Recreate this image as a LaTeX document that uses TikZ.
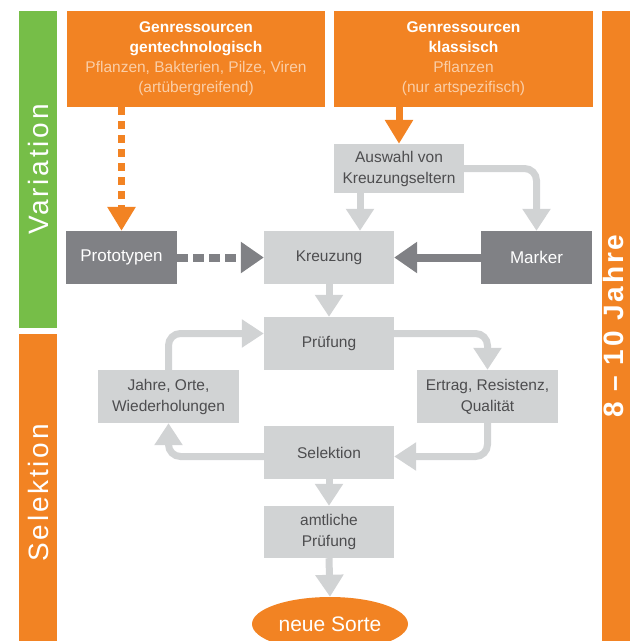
\documentclass[tikz,border=0pt]{standalone}
\usepackage{fontspec}
\setmainfont{Liberation Sans}
\usetikzlibrary{arrows.meta,shapes.geometric}

\definecolor{sortorange}{RGB}{242,131,35}
\definecolor{sortgreen}{RGB}{118,190,72}
\definecolor{boxgray}{RGB}{209,211,212}
\definecolor{markgray}{RGB}{128,129,133}
\definecolor{textgray}{RGB}{77,77,79}
\colorlet{lightorange}{sortorange!40!white}

\tikzset{
  graybox/.style={fill=boxgray, text=textgray, minimum width=130pt, minimum height=53pt,
    inner sep=0pt, align=center, font=\fontsize{15.5}{21}\selectfont},
  markbox/.style={fill=markgray, text=white, minimum width=111pt, minimum height=53pt,
    inner sep=0pt, font=\fontsize{17}{21}\selectfont},
  sourcebox/.style={fill=sortorange, text=white, minimum width=258pt, minimum height=96pt,
    inner sep=0pt, align=center, font=\fontsize{15.5}{20}\selectfont},
  phasebar/.style={text=white, minimum height=38pt, inner sep=0pt, rotate=90,
    font=\fontsize{28}{30}\selectfont\addfontfeature{LetterSpace=10}},
  flow/.style={line width=7pt, boxgray, -{Triangle[width=27pt,length=22pt]}},
  markflow/.style={line width=8pt, markgray, -{Triangle[width=30pt,length=23pt]}},
  srcflow/.style={line width=7pt, sortorange, -{Triangle[width=27pt,length=24pt]}}
}

\begin{document}
\begin{tikzpicture}[x=1pt,y=-1pt]
	\useasboundingbox (0,0) rectangle (630,641);

	% Phases
	\node[phasebar, fill=sortgreen, minimum width=317pt] (variation) at (38,169.5) {Variation};
	\node[phasebar, fill=sortorange, minimum width=318pt] (selektion) at (38,493) {Selektion};
	\fill[sortorange] (602,11) rectangle (630,641);
	\node[phasebar, minimum height=20pt] (dauer) at (613,326) {\bfseries 8 -- 10 Jahre};

	% Sources
	\node[sourcebox] (gentech) at (196,59) {\textbf{Genressourcen}\\\textbf{gentechnologisch}\\
		\textcolor{lightorange}{Pflanzen, Bakterien, Pilze, Viren}\\\textcolor{lightorange}{(artübergreifend)}};
	\node[sourcebox, minimum width=259pt] (klassisch) at (463.5,59) {\textbf{Genressourcen}\\\textbf{klassisch}\\
		\textcolor{lightorange}{Pflanzen}\\\textcolor{lightorange}{(nur artspezifisch)}};

	% Steps
	\node[graybox, minimum height=49pt] (auswahl) at (399,168.5) {Auswahl von\\Kreuzungseltern};
	\node[markbox] (prototypen) at (121.5,257.5) {Prototypen};
	\node[graybox] (kreuzung) at (329,257.5) {Kreuzung};
	\node[markbox] (marker) at (536.5,257.5) {Marker};
	\node[graybox] (pruefung) at (329,343.5) {Prüfung};
	\node[graybox, minimum width=141pt] (jahre) at (168.5,396.5) {Jahre, Orte,\\Wiederholungen};
	\node[graybox, minimum width=141pt] (ertrag) at (487.5,396.5) {Ertrag, Resistenz,\\Qualität};
	\node[graybox] (selektion2) at (329,452.5) {Selektion};
	\node[graybox, minimum height=52pt] (amtlich) at (329,532) {amtliche\\Prüfung};
	\node[ellipse, fill=sortorange, text=white, minimum width=156pt, minimum height=54pt, inner sep=0pt,
		font=\fontsize{21}{24}\selectfont] (sorte) at (330,624) {neue Sorte};

	% Links
	\draw[srcflow, dash pattern=on 8pt off 6pt] (gentech.south -| prototypen.north) -- (prototypen.north);
	\draw[srcflow] (klassisch.south -| auswahl.north) -- (auswahl.north);
	\draw[flow] ([xshift=-39pt]auswahl.south) coordinate (a1) -- (a1 |- kreuzung.north);
	\draw[flow, rounded corners=12pt] (auswahl.east) -| (marker.north);
	\draw[markflow, dash pattern=on 11pt off 5pt] (prototypen.east) -- (kreuzung.west);
	\draw[markflow] (marker.west) -- (kreuzung.east);
	\draw[flow] (kreuzung.south) -- (pruefung.north);

	% Loop
	\draw[flow, rounded corners=12pt] ([yshift=10pt]pruefung.east) -| (ertrag.north);
	\draw[flow, rounded corners=12pt] (ertrag.south) |- ([yshift=-4pt]selektion2.east);
	\draw[flow, rounded corners=12pt] ([yshift=-4pt]selektion2.west) -| (jahre.south);
	\draw[flow, rounded corners=12pt] (jahre.north) |- ([yshift=10pt]pruefung.west);

	\draw[flow] (selektion2.south) -- (amtlich.north);
	\draw[flow] (amtlich.south) -- (sorte.north);
\end{tikzpicture}
\end{document}
